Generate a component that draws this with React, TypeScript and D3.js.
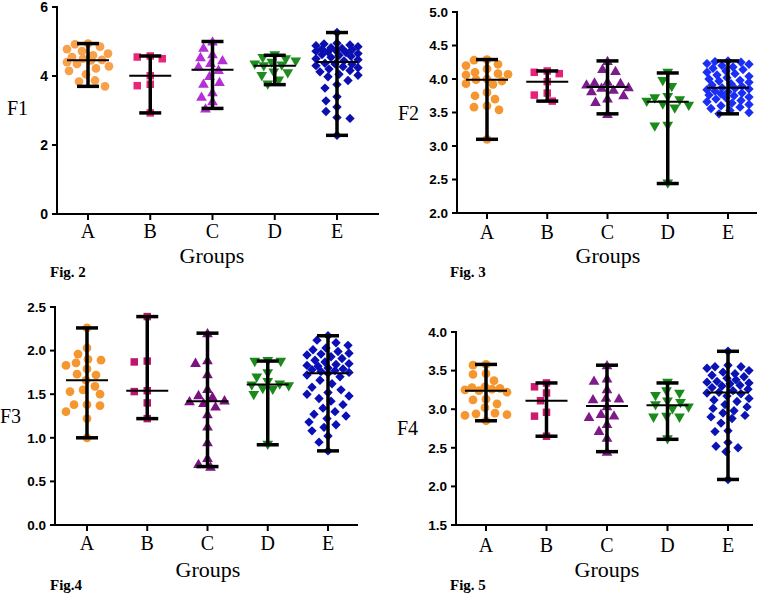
import React from 'react';
import * as d3 from 'd3';

const groups = ['A', 'B', 'C', 'D', 'E'];

// F1 (Fig. 2)
const f1A = [4.94, 4.92, 4.85, 4.78, 4.72, 4.65, 4.60, 4.55, 4.50, 4.47, 4.45, 4.40, 4.35, 4.28, 4.22, 4.15, 4.05, 3.87, 3.84, 3.70];
const f1B = [4.58, 4.55, 4.50, 4.01, 3.76, 3.72, 2.93];
const f1C = [5.00, 4.82, 4.63, 4.55, 4.46, 4.38, 4.28, 4.18, 4.00, 3.83, 3.78, 3.53, 3.40, 3.27, 3.06];
const f1D = [4.60, 4.52, 4.48, 4.42, 4.38, 4.33, 4.30, 4.28, 4.10, 4.08, 4.00, 3.87, 3.75];
const f1E = [5.26, 4.95, 4.93, 4.90, 4.88, 4.85, 4.82, 4.80, 4.78, 4.76, 4.74, 4.72, 4.70, 4.68, 4.65, 4.62, 4.60, 4.57, 4.54, 4.50, 4.47, 4.44, 4.37, 4.35, 4.34, 4.30, 4.27, 4.24, 4.20, 4.16, 4.12, 4.05, 4.02, 3.98, 3.87, 3.75, 3.65, 3.40, 3.28, 3.10, 2.97, 2.80, 2.77, 2.28];

// F2 (Fig. 3)
const f2A = [4.29, 4.28, 4.22, 4.20, 4.15, 4.10, 4.08, 4.07, 4.06, 4.00, 3.99, 3.97, 3.93, 3.92, 3.80, 3.75, 3.70, 3.60, 3.58, 3.54, 3.10];
const f2B = [4.12, 4.10, 4.08, 3.96, 3.79, 3.76, 3.67];
const f2C = [4.27, 4.15, 4.12, 3.96, 3.95, 3.94, 3.92, 3.88, 3.87, 3.84, 3.82, 3.76, 3.71, 3.66, 3.48];
const f2D = [4.09, 3.97, 3.88, 3.73, 3.71, 3.68, 3.66, 3.62, 3.60, 3.56, 3.30, 3.29, 2.44];
const f2E = [4.27, 4.26, 4.25, 4.23, 4.22, 4.20, 4.18, 4.16, 4.14, 4.12, 4.10, 4.08, 4.06, 4.04, 4.02, 4.00, 3.98, 3.97, 3.95, 3.93, 3.91, 3.89, 3.87, 3.86, 3.85, 3.84, 3.82, 3.81, 3.79, 3.78, 3.76, 3.75, 3.73, 3.72, 3.70, 3.68, 3.66, 3.64, 3.62, 3.60, 3.58, 3.56, 3.53, 3.50, 3.48];

// F3 (Fig. 4)
const f3A = [2.26, 2.03, 1.96, 1.90, 1.89, 1.86, 1.83, 1.79, 1.73, 1.72, 1.66, 1.59, 1.55, 1.53, 1.50, 1.38, 1.38, 1.37, 1.30, 1.22, 1.00];
const f3B = [2.39, 1.88, 1.87, 1.54, 1.53, 1.40, 1.22];
const f3C = [2.20, 1.89, 1.86, 1.73, 1.56, 1.49, 1.47, 1.43, 1.42, 1.40, 1.36, 1.27, 1.13, 0.95, 0.77, 0.70, 0.67];
const f3D = [1.88, 1.87, 1.87, 1.74, 1.69, 1.64, 1.61, 1.60, 1.59, 1.56, 1.55, 1.49, 0.92];
const f3E = [2.17, 2.12, 2.09, 2.06, 2.03, 2.01, 1.99, 1.97, 1.96, 1.95, 1.93, 1.91, 1.89, 1.87, 1.85, 1.84, 1.83, 1.82, 1.80, 1.79, 1.78, 1.77, 1.76, 1.75, 1.74, 1.72, 1.70, 1.66, 1.62, 1.58, 1.55, 1.52, 1.50, 1.48, 1.45, 1.42, 1.38, 1.34, 1.30, 1.27, 1.25, 1.22, 1.18, 1.15, 1.12, 1.08, 1.02, 0.95, 0.85];

// F4 (Fig. 5)
const f4A = [3.58, 3.57, 3.46, 3.45, 3.37, 3.29, 3.28, 3.27, 3.26, 3.25, 3.24, 3.22, 3.13, 3.12, 3.07, 3.02, 2.95, 2.94, 2.93, 2.92, 2.85];
const f4B = [3.34, 3.29, 3.21, 3.11, 2.96, 2.91, 2.65];
const f4C = [3.57, 3.40, 3.37, 3.26, 3.15, 3.14, 3.13, 3.04, 2.94, 2.92, 2.90, 2.81, 2.72, 2.63, 2.45];
const f4D = [3.34, 3.23, 3.20, 3.17, 3.10, 3.08, 3.05, 3.02, 3.00, 2.90, 2.89, 2.89, 2.61];
const f4E = [3.75, 3.57, 3.55, 3.55, 3.53, 3.50, 3.48, 3.46, 3.44, 3.42, 3.40, 3.38, 3.36, 3.35, 3.34, 3.33, 3.31, 3.30, 3.28, 3.26, 3.24, 3.22, 3.21, 3.20, 3.17, 3.14, 3.12, 3.10, 3.06, 3.03, 3.01, 2.98, 2.95, 2.92, 2.90, 2.88, 2.82, 2.72, 2.71, 2.57, 2.52, 2.50, 2.45, 2.09];

const yTicksF1 = [0, 2, 4, 6];
const yTicksF2 = [2.0, 2.5, 3.0, 3.5, 4.0, 4.5, 5.0];
const yTicksF3 = [0.0, 0.5, 1.0, 1.5, 2.0, 2.5];
const yTicksF4 = [1.5, 2.0, 2.5, 3.0, 3.5, 4.0];

const yLabels = ['F1', 'F2', 'F3', 'F4'];
const figLabels = ['Fig. 2', 'Fig. 3', 'Fig.4', 'Fig. 5'];
const xTitle = 'Groups';

const panelData = [
  [f1A, f1B, f1C, f1D, f1E],
  [f2A, f2B, f2C, f2D, f2E],
  [f3A, f3B, f3C, f3D, f3E],
  [f4A, f4B, f4C, f4D, f4E],
];
const panelTicks = [yTicksF1, yTicksF2, yTicksF3, yTicksF4];

const palettes = [
  ['#F9A04B', '#E8267A', '#B42FD6', '#1E8C1E', '#0B0FB0'],
  ['#F5962E', '#E9207A', '#7A1C8C', '#1A8A1A', '#1A2EF5'],
  ['#F5962E', '#C0156F', '#7A1280', '#1A8A1A', '#0A10B5'],
  ['#F5962E', '#CC1A6E', '#801A88', '#1A8A1A', '#0A14B5'],
];

const layouts = [
  { x0: 57, x1: 379, yTop: 7, yBot: 214, cA: 88, cE: 337, catY: 238, gX: 212, gY: 263, figX: 50, figY: 277, labX: 7, labY: 115, tickFs: 14, fmt: 'd' },
  { x0: 457, x1: 757, yTop: 12, yBot: 213, cA: 487, cE: 728, catY: 239, gX: 608, gY: 263, figX: 450, figY: 277, labX: 398, labY: 120, tickFs: 13.5, fmt: '.1f' },
  { x0: 55, x1: 358, yTop: 307, yBot: 525, cA: 87, cE: 328, catY: 550, gX: 208, gY: 577, figX: 50, figY: 590, labX: 0, labY: 423, tickFs: 13.5, fmt: '.1f' },
  { x0: 456, x1: 753, yTop: 332, yBot: 525, cA: 486, cE: 728, catY: 552, gX: 607, gY: 577, figX: 450, figY: 590, labX: 397, labY: 435, tickFs: 13.5, fmt: '.1f' },
];

const symbols = [d3.symbolCircle, d3.symbolSquare, d3.symbolTriangle, d3.symbolTriangle, d3.symbolSquare];
const symSizes = [60, 56, 50, 50, 44];
const symRot = [0, 0, 0, 180, 45];

// elliptical beeswarm: points spread horizontally until they clear each other
function swarm(values: number[], y: (v: number) => number, dx: number, dy: number, maxOff: number): number[] {
  const order = values.map((v, i) => ({ v, i, y: y(v) })).sort((a, b) => a.y - b.y);
  const placed: { x: number; y: number }[] = [];
  const res: number[] = new Array(values.length).fill(0);
  for (const p of order) {
    let best = 0;
    let bestScore = -1;
    for (let k = 0; k <= 2 * maxOff; k++) {
      const off = k % 2 === 0 ? k / 2 : -(k + 1) / 2;
      let minD = Infinity;
      for (const q of placed) {
        const ex = (q.x - off) / dx;
        const ey = (q.y - p.y) / dy;
        const dd = Math.sqrt(ex * ex + ey * ey);
        if (dd < minD) minD = dd;
      }
      if (minD >= 1) { best = off; bestScore = Infinity; break; }
      if (minD > bestScore) { bestScore = minD; best = off; }
    }
    placed.push({ x: best, y: p.y });
    res[p.i] = best;
  }
  return res;
}

const serif = '"Liberation Serif", "Times New Roman", serif';
const sans = '"Liberation Sans", Arial, sans-serif';

function Panel({ idx }: { idx: number }) {
  const L = layouts[idx];
  const ticks = panelTicks[idx];
  const data = panelData[idx];
  const pal = palettes[idx];
  const y = d3.scaleLinear().domain([ticks[0], ticks[ticks.length - 1]]).range([L.yBot, L.yTop]);
  const x = d3.scalePoint<string>().domain(groups).range([L.cA, L.cE]);
  const fmt = d3.format(L.fmt);
  return (
    <g>
      {data.map((vals, gi) => {
        const cx = x(groups[gi]) as number;
        const offs = swarm(vals, y, 12.5, 8.5, 21);
        const path = d3.symbol().type(symbols[gi]).size(symSizes[gi])() as string;
        const mn = d3.min(vals) as number;
        const mx = d3.max(vals) as number;
        const md = d3.median(vals) as number;
        return (
          <g key={gi}>
            {vals.map((v, i) => (
              <path key={i} d={path} fill={pal[gi]}
                transform={`translate(${cx + offs[i]},${y(v) + (gi === 2 ? 1 : gi === 3 ? -1 : 0)}) rotate(${symRot[gi]})`} />
            ))}
            <line x1={cx} x2={cx} y1={y(mx)} y2={y(mn)} stroke="#000" strokeWidth={3.5} />
            <line x1={cx - 11} x2={cx + 11} y1={y(mx)} y2={y(mx)} stroke="#000" strokeWidth={3.5} />
            <line x1={cx - 11} x2={cx + 11} y1={y(mn)} y2={y(mn)} stroke="#000" strokeWidth={3.5} />
            <line x1={cx - 21} x2={cx + 21} y1={y(md)} y2={y(md)} stroke="#000" strokeWidth={2} />
          </g>
        );
      })}
      <line x1={L.x0} x2={L.x0} y1={L.yTop - 1} y2={L.yBot + 1} stroke="#000" strokeWidth={2} />
      <line x1={L.x0 - 1} x2={L.x1} y1={L.yBot} y2={L.yBot} stroke="#000" strokeWidth={2} />
      {ticks.map((t) => (
        <g key={t}>
          <line x1={L.x0 - 5} x2={L.x0} y1={y(t)} y2={y(t)} stroke="#000" strokeWidth={2} />
          <text x={L.x0 - 9} y={y(t)} dy="0.36em" textAnchor="end" fontFamily={sans} fontWeight="bold" fontSize={L.tickFs}>{fmt(t)}</text>
        </g>
      ))}
      {groups.map((g) => (
        <g key={g}>
          <line x1={x(g)} x2={x(g)} y1={L.yBot} y2={L.yBot + 6} stroke="#000" strokeWidth={2} />
          <text x={x(g)} y={L.catY} textAnchor="middle" fontFamily={serif} fontSize={20}>{g}</text>
        </g>
      ))}
      <text x={L.gX} y={L.gY} textAnchor="middle" fontFamily={serif} fontSize={22}>{xTitle}</text>
      <text x={L.labX} y={L.labY} fontFamily={serif} fontSize={20}>{yLabels[idx]}</text>
      <text x={L.figX} y={L.figY} fontFamily={serif} fontWeight="bold" fontSize={15}>{figLabels[idx]}</text>
    </g>
  );
}

export default function App() {
  return (
    <svg width={761} height={594} style={{ position: 'absolute', left: 0, top: 0, background: '#fff' }}>
      <rect width={761} height={594} fill="#fff" />
      {[0, 1, 2, 3].map((i) => <Panel key={i} idx={i} />)}
    </svg>
  );
}
